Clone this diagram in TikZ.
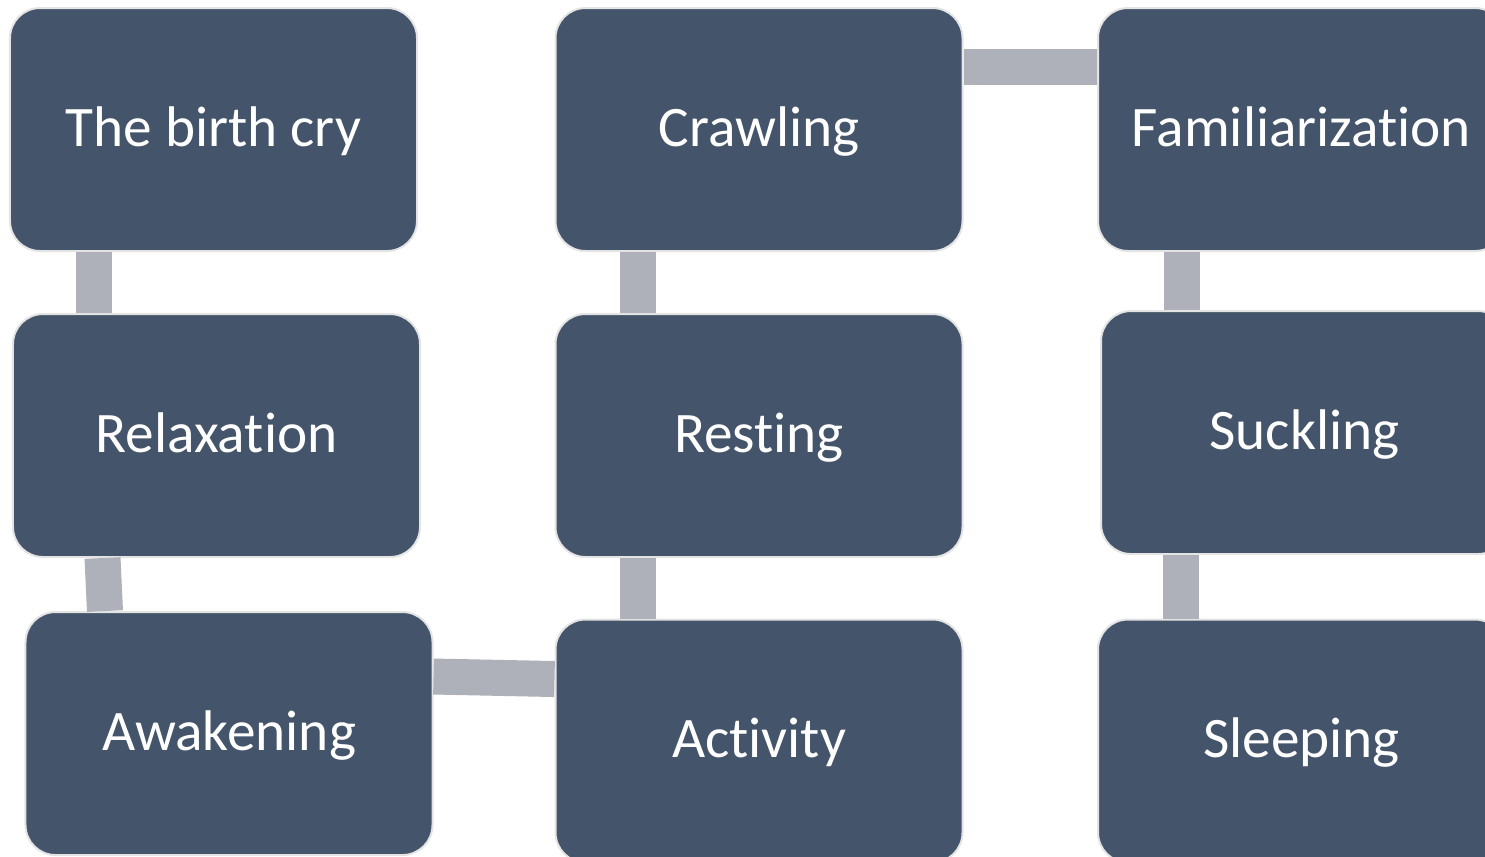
\documentclass[tikz,border=0pt]{standalone}
\usepackage{fontspec}
\setmainfont{Carlito}[Ligatures=NoCommon]
\usepackage{tikz}
\usetikzlibrary{positioning, calc}
\usepackage{xcolor}
\definecolor{boxblue}{HTML}{44546A}
\definecolor{boxrim}{HTML}{E4E4E4}
\definecolor{linkgray}{HTML}{AEB1B9}

\begin{document}
\begin{tikzpicture}[
  stage/.style={draw=boxrim, line width=0.02cm, fill=boxblue, rounded corners=0.3cm,
    minimum width=4.07cm, minimum height=2.43cm, inner sep=0pt, text=white,
    text height=12pt, text depth=2.5pt,
    font=\fontsize{16.3}{19}\selectfont},
  link/.style={draw=linkgray, line width=0.36cm}
]
\useasboundingbox (0,0) rectangle (14.85,-8.56);
\clip (0,0) rectangle (14.85,-8.56);
% left column
\node[stage] (cry) at (2.135,-1.295) {The birth cry};
\node[stage] (relax) at (2.165,-4.355) {Relaxation};
\node[stage] (awake) at (2.29,-7.335) {Awakening};
% middle column
\node[stage] (crawl) at (7.59,-1.295) {Crawling};
\node[stage] (rest) at (7.59,-4.355) {Resting};
\node[stage] (act) at (7.59,-7.41) {Activity};
% right column
\node[stage] (fam) at (13.015,-1.295) {Familiarization};
\node[stage] (suck) at (13.045,-4.325) {Suckling};
\node[stage] (sleep) at (13.015,-7.41) {Sleeping};
% connectors
\draw[link] ([xshift=-1.20cm]cry.south) -- ([xshift=-1.23cm]relax.north);
\draw[link] ([xshift=-1.14cm]relax.south) -- ([xshift=-1.24cm]awake.north);
\draw[link] ([yshift=0.57cm]awake.east) -- ([yshift=0.62cm]act.west);
\draw[link] ([xshift=-1.21cm]act.north) -- ([xshift=-1.21cm]rest.south);
\draw[link] ([xshift=-1.21cm]rest.north) -- ([xshift=-1.21cm]crawl.south);
\draw[link] ([yshift=0.625cm]crawl.east) -- ([yshift=0.625cm]fam.west);
\draw[link] ([xshift=-1.20cm]fam.south) -- ([xshift=-1.23cm]suck.north);
\draw[link] ([xshift=-1.24cm]suck.south) -- ([xshift=-1.21cm]sleep.north);
\end{tikzpicture}
\end{document}
